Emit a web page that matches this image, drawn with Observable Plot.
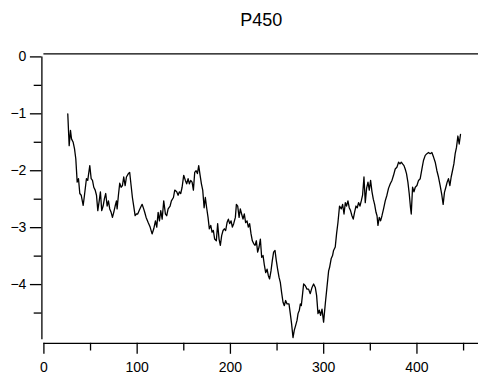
<!DOCTYPE html>
<html><head><meta charset="utf-8">
<script src="https://cdn.jsdelivr.net/npm/d3@7"></script>
<script src="https://cdn.jsdelivr.net/npm/@observablehq/plot@0.6"></script>
<style>html,body{margin:0;padding:0;background:#fff}</style>
</head><body><div id="chart"></div>
<script>
const title = "P450";
const xs = [25.6,27.1,28.5,29.6,31.4,32.8,34.2,35.7,37.1,38.5,40.0,42.1,43.5,45.6,47.0,49.2,50.7,52.1,53.5,55.0,
56.4,57.8,59.3,60.6,62.0,63.5,64.9,66.3,67.8,69.2,70.6,72.1,73.5,74.9,76.4,77.8,78.5,79.9,81.3,82.8,
84.2,85.6,87.1,88.5,90.6,92.0,93.5,94.9,96.3,97.8,99.2,100.6,102.4,103.5,105.3,107.0,108.1,109.6,111.8,113.9,
116.0,117.8,119.6,121.0,122.5,123.9,125.3,126.8,128.5,130.3,131.7,133.2,135.3,136.7,138.9,140.3,142.4,143.9,145.3,146.7,
148.2,149.9,151.7,153.1,154.6,156.0,157.4,158.9,160.3,161.7,163.2,164.6,166.0,167.5,168.9,170.3,171.8,173.1,174.5,176.0,
177.4,178.9,180.3,181.7,183.1,184.9,186.3,187.8,189.2,190.6,192.1,193.5,194.9,196.4,197.8,199.2,200.7,202.1,203.5,205.3,
206.4,207.8,209.3,210.6,212.0,213.5,214.9,216.3,217.8,219.2,220.6,222.1,223.5,224.9,226.4,227.8,229.2,230.7,232.1,233.5,
235.0,236.4,237.8,239.3,240.6,242.0,243.5,244.9,246.3,247.8,249.2,250.6,252.1,253.5,254.9,256.4,257.8,259.2,260.7,262.8,
264.2,265.6,267.1,268.5,269.9,271.4,272.5,273.9,275.0,276.0,277.4,278.5,280.3,282.1,283.8,285.6,287.5,289.2,291.0,292.4,
293.9,295.3,296.7,298.2,299.9,301.7,303.5,305.3,306.3,308.1,309.5,310.6,312.4,313.8,315.3,317.0,318.9,320.3,321.8,323.2,
324.5,326.0,327.4,328.8,330.3,331.7,333.1,334.6,336.0,337.4,338.9,340.3,341.7,343.2,344.6,346.0,347.5,348.9,350.3,351.8,
353.2,354.6,356.1,357.2,358.2,359.6,361.0,362.5,364.2,366.0,367.8,369.5,371.4,373.2,374.9,376.7,378.5,380.3,381.8,383.2,
384.6,386.1,387.4,388.8,390.3,391.7,393.1,393.9,395.3,396.8,398.2,400.0,401.7,403.5,405.3,407.0,408.9,410.7,412.4,414.2,
416.0,417.8,419.6,421.4,423.1,424.9,426.7,428.1,429.5,431.0,432.4,433.8,435.3,436.7,438.1,439.6,441.0,442.4,443.9,445.3,446.7];
const ys = [-1.00,-1.56,-1.29,-1.44,-1.50,-1.61,-1.79,-2.20,-2.14,-2.40,-2.43,-2.61,-2.43,-2.14,-2.17,-1.91,-2.14,-2.17,-2.29,-2.34,
-2.43,-2.70,-2.53,-2.37,-2.70,-2.62,-2.49,-2.40,-2.62,-2.53,-2.67,-2.73,-2.82,-2.73,-2.62,-2.53,-2.67,-2.43,-2.22,-2.29,
-2.26,-2.11,-2.26,-2.11,-2.05,-2.03,-2.26,-2.47,-2.62,-2.79,-2.76,-2.76,-2.69,-2.65,-2.59,-2.67,-2.73,-2.82,-2.91,-2.99,
-3.11,-3.02,-2.88,-2.99,-2.73,-2.88,-2.70,-2.85,-2.53,-2.76,-2.79,-2.67,-2.62,-2.53,-2.47,-2.34,-2.37,-2.43,-2.37,-2.40,
-2.29,-2.08,-2.17,-2.23,-2.14,-2.23,-2.17,-2.20,-2.34,-2.03,-2.00,-2.05,-1.91,-2.08,-2.23,-2.34,-2.65,-2.47,-2.65,-2.82,
-3.02,-2.96,-3.08,-3.05,-3.20,-3.23,-2.93,-3.20,-3.31,-3.14,-3.05,-3.02,-3.05,-2.91,-2.85,-2.93,-2.88,-2.99,-2.93,-2.82,
-2.59,-2.62,-2.82,-2.67,-2.76,-2.85,-2.76,-2.91,-2.88,-2.99,-2.93,-3.11,-3.23,-3.28,-3.31,-3.23,-3.43,-3.34,-3.20,-3.52,
-3.49,-3.66,-3.79,-3.73,-3.84,-3.90,-3.76,-3.58,-3.43,-3.40,-3.58,-3.73,-3.87,-3.96,-4.14,-4.31,-4.37,-4.28,-4.34,-4.34,
-4.51,-4.69,-4.93,-4.80,-4.72,-4.63,-4.51,-4.45,-4.34,-4.37,-4.16,-3.99,-4.02,-4.08,-4.08,-4.16,-4.05,-3.99,-4.05,-4.19,
-4.51,-4.45,-4.54,-4.43,-4.66,-4.34,-4.05,-3.76,-3.70,-3.54,-3.49,-3.40,-3.34,-3.11,-2.91,-2.62,-2.67,-2.59,-2.76,-2.56,
-2.62,-2.53,-2.65,-2.70,-2.79,-2.85,-2.73,-2.62,-2.65,-2.56,-2.62,-2.53,-2.43,-2.11,-2.56,-2.31,-2.20,-2.34,-2.17,-2.37,
-2.50,-2.59,-2.73,-2.79,-2.96,-2.82,-2.88,-2.79,-2.67,-2.53,-2.43,-2.31,-2.23,-2.17,-2.08,-1.97,-1.94,-1.85,-1.88,-1.85,
-1.88,-1.91,-1.97,-2.05,-2.20,-2.40,-2.65,-2.76,-2.29,-2.37,-2.29,-2.26,-2.17,-2.14,-1.97,-1.82,-1.73,-1.70,-1.68,-1.70,
-1.68,-1.76,-1.85,-2.00,-2.11,-2.26,-2.43,-2.59,-2.38,-2.29,-2.20,-2.14,-2.26,-2.11,-2.00,-1.88,-1.70,-1.59,-1.39,-1.53,-1.36];
const xTicks = [0, 100, 200, 300, 400];
const xMinorTicks = [50, 150, 250, 350, 450];
const yTicks = [0, -1, -2, -3, -4];
const yMinorTicks = [-0.5, -1.5, -2.5, -3.5, -4.5];
const xDomain = [0, 466];
const yDomain = [-4.97, 0];

const data = xs.map((x, i) => ({x, y: ys[i]}));
const font = "'Liberation Sans', Arial, Helvetica, sans-serif";
const sw = 1.3;
const intFmt = d3.format("d");

const chart = Plot.plot({
  width: 478,
  height: 375,
  marginLeft: 43.4,
  marginRight: 0,
  marginTop: 56.4,
  marginBottom: 35.7,
  style: {fontFamily: font, fontSize: "14px", color: "#000", background: "#fff", overflow: "visible"},
  x: {domain: xDomain, label: null},
  y: {domain: yDomain, label: null},
  marks: [
    Plot.ruleY([yDomain[1]], {dy: -3, stroke: "#000", strokeWidth: sw}),
    Plot.ruleX([xDomain[0]], {dx: -2, stroke: "#000", strokeWidth: sw}),
    Plot.ruleY([yDomain[0]], {dy: 3.5, stroke: "#000", strokeWidth: sw}),
    Plot.axisY(yTicks, {anchor: "left", tickSize: 11.5, tickPadding: 4, dx: -2, strokeWidth: sw, label: null, fontSize: 14, tickFormat: intFmt}),
    Plot.axisY(yMinorTicks, {anchor: "left", tickSize: 7.7, dx: -2, strokeWidth: sw, label: null, tickFormat: () => ""}),
    Plot.axisX(xTicks, {anchor: "bottom", tickSize: 11, tickPadding: 8, dy: 3.5, strokeWidth: sw, label: null, fontSize: 14, tickFormat: intFmt}),
    Plot.axisX(xMinorTicks, {anchor: "bottom", tickSize: 7.7, dy: 3.5, strokeWidth: sw, label: null, tickFormat: () => ""}),
    Plot.line(data, {x: "x", y: "y", stroke: "#000", strokeWidth: 1.3}),
    Plot.text([title], {text: d => d, frameAnchor: "top", lineAnchor: "bottom", dy: -31.4, fontSize: 18, fill: "#000"})
  ]
});
document.getElementById("chart").appendChild(chart);
</script>
</body></html>
